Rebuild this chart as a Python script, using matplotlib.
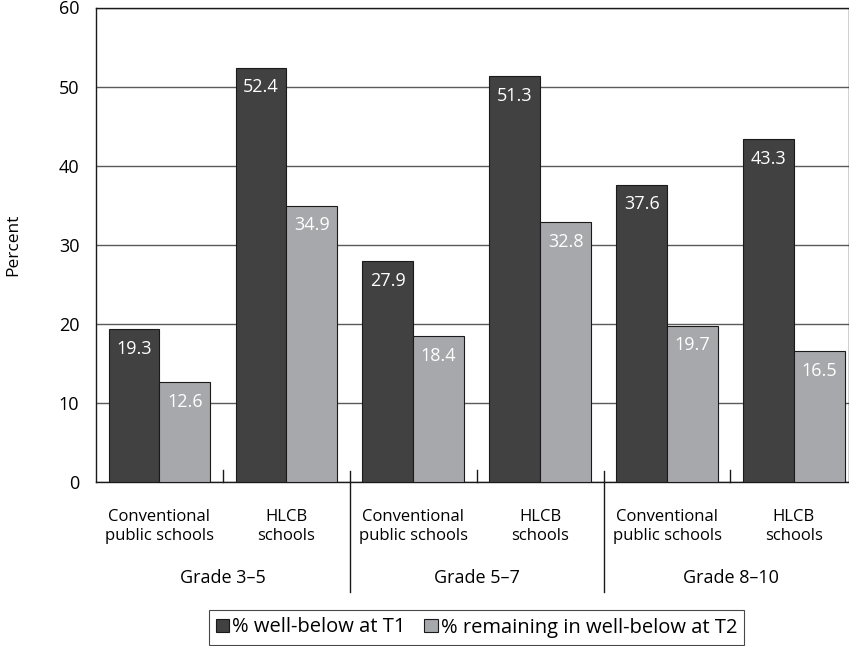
import matplotlib
matplotlib.use("Agg")
import matplotlib.pyplot as plt
from matplotlib.patches import Patch

plt.rcParams["font.family"] = ["Open Sans", "DejaVu Sans"]

# data
schools = ["Conventional\npublic schools", "HLCB\nschools"] * 3
grades = ["Grade 3–5", "Grade 5–7", "Grade 8–10"]
t1 = [19.3, 52.4, 27.9, 51.3, 37.6, 43.3]
t2 = [12.6, 34.9, 18.4, 32.8, 19.7, 16.5]
legend_labels = ["% well-below at T1", "% remaining in well-below at T2"]

dark = "#414141"
light = "#a7a8ab"

fig = plt.figure(figsize=(8.49, 6.46), dpi=100)
ax = fig.add_axes([96 / 849, 1 - 481.7 / 646, 752.5 / 849, 474.2 / 646])

x = list(range(len(t1)))
w = 0.4
b1 = ax.bar([i - w / 2 for i in x], t1, w, color=dark, edgecolor="#1a1a1a",
            linewidth=0.8, zorder=3)
b2 = ax.bar([i + w / 2 for i in x], t2, w, color=light, edgecolor="#1a1a1a",
            linewidth=0.8, zorder=3)

for bars, vals in ((b1, t1), (b2, t2)):
    for r, v in zip(bars, vals):
        ax.annotate(f"{v:.1f}", (r.get_x() + r.get_width() / 2, v),
                    xytext=(0, -14), textcoords="offset points",
                    ha="center", va="center", color="white", fontsize=13,
                    zorder=4)

ax.set_xlim(-0.5, 5.43)
ax.set_ylim(0, 60)
ax.set_yticks(range(0, 61, 10))
ax.tick_params(axis="y", length=0, pad=12, labelsize=13)
ax.set_xticks([])
ax.yaxis.grid(True, color="#5a5a5a", linewidth=1)
ax.set_axisbelow(True)
for s in ax.spines.values():
    s.set_color("#1a1a1a")
    s.set_linewidth(1)

ax.set_ylabel("Percent", fontsize=12.5, labelpad=27)

# school labels under each slot
tr = ax.get_xaxis_transform()
for i, lab in enumerate(schools):
    ax.text(i, -0.057, lab, transform=tr, ha="center", va="top",
            fontsize=12, linespacing=1.3)

# grade labels and separators
for g, lab in enumerate(grades):
    ax.text(2 * g + 0.5, -0.203, lab, transform=tr, ha="center", va="center",
            fontsize=13)
for sx in (1.5, 3.5):
    ax.plot([sx, sx], [0.022, -0.232], transform=tr, color="#1a1a1a",
            linewidth=1, clip_on=False, zorder=5)
for sx in (0.5, 2.5, 4.5):
    ax.plot([sx, sx], [0, 0.025], transform=tr, color="#1a1a1a",
            linewidth=1, clip_on=False, zorder=5)

handles = [Patch(facecolor=dark, edgecolor="#1a1a1a", linewidth=0.8),
           Patch(facecolor=light, edgecolor="#1a1a1a", linewidth=0.8)]
leg = fig.legend(handles, legend_labels, loc="center", ncol=2,
                 bbox_to_anchor=(476.5 / 849, 1 - 627.5 / 646), fontsize=14.5,
                 frameon=True, fancybox=False, handlelength=0.68,
                 handleheight=0.68, handletextpad=0.15, columnspacing=0.9,
                 borderpad=0.35, borderaxespad=0)
leg.get_frame().set_edgecolor("#1a1a1a")
leg.get_frame().set_linewidth(0.8)

fig.savefig("out.png", dpi=100)
